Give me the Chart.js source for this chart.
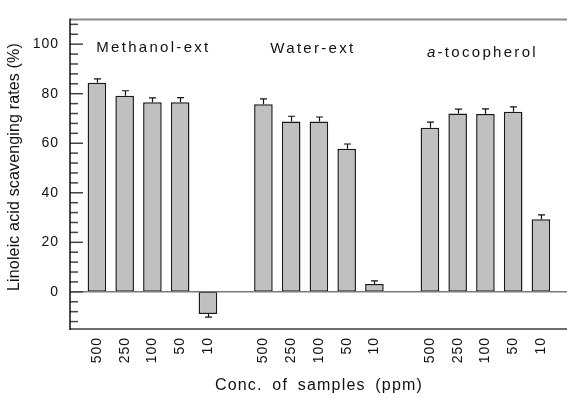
<!DOCTYPE html>
<html>
<head>
<meta charset="utf-8">
<script src="https://cdn.jsdelivr.net/npm/chart.js@4.4.1/dist/chart.umd.min.js"></script>
<style>
    html, body { margin: 0; padding: 0; background: #fff; }
    #wrap { width: 567px; height: 399px; }
</style>
</head>
<body>
<div id="wrap"><canvas id="chart"></canvas></div>
<script>
// sample groups and concentrations (ppm)
const groupNames = ['Methanol-ext', 'Water-ext', 'a-tocopherol'];
const concLabels = ['500', '250', '100', '50', '10'];

// linoleic acid scavenging rates (%), same order as concLabels
const methanolRates = [84.4, 79.2, 76.5, 76.5, -8.9];
const waterRates = [75.7, 68.8, 68.8, 57.8, 3.2];
const tocopherolRates = [66.3, 72.0, 71.8, 72.7, 29.3];

// error bars (drawn one side only, away from zero)
const methanolErr = [1.6, 2.0, 1.8, 1.9, 1.3];
const waterErr = [2.2, 2.1, 1.8, 1.9, 1.2];
const tocopherolErr = [2.2, 1.8, 2.1, 2.0, 1.8];

const yTickValues = [0, 20, 40, 60, 80, 100];

const FONT = "'Liberation Sans', Arial, sans-serif";

// each group takes 5 slots, one empty slot between groups
const rates = [methanolRates, waterRates, tocopherolRates];
const errs = [methanolErr, waterErr, tocopherolErr];
let points = [];
let pointErrs = [];
let slotLabels = {};
rates.forEach((group, g) => {
    group.forEach((v, i) => {
        const x = g * 6 + i;
        points.push({ x: x, y: v });
        pointErrs.push(errs[g][i]);
        slotLabels[x] = concLabels[i];
    });
});

// axes lines, inward ticks, error bars and group names
const decorPlugin = {
    id: 'decor',
    beforeDraw(chart) {
        chart.ctx.letterSpacing = '1px';
    },
    afterDatasetsDraw(chart) {
        const ctx = chart.ctx;
        const area = chart.chartArea;
        const xs = chart.scales.x;
        const ys = chart.scales.y;

        ctx.save();
        ctx.lineCap = 'butt';

        // error bars
        ctx.strokeStyle = '#111';
        ctx.lineWidth = 1.2;
        points.forEach((p, i) => {
            const px = Math.round(xs.getPixelForValue(p.x)) + 0.5;
            const sign = p.y < 0 ? -1 : 1;
            const y0 = ys.getPixelForValue(p.y);
            const y1 = ys.getPixelForValue(p.y + sign * pointErrs[i]);
            ctx.beginPath();
            ctx.moveTo(px, y0);
            ctx.lineTo(px, y1);
            ctx.moveTo(px - 3.5, y1);
            ctx.lineTo(px + 3.5, y1);
            ctx.stroke();
        });

        // zero line
        const zy = ys.getPixelForValue(0);
        ctx.strokeStyle = '#7a7a7a';
        ctx.lineWidth = 1.5;
        ctx.beginPath();
        ctx.moveTo(area.left, zy);
        ctx.lineTo(area.right, zy);
        ctx.stroke();

        // top frame line
        ctx.strokeStyle = '#8a8a8a';
        ctx.lineWidth = 2;
        ctx.beginPath();
        ctx.moveTo(area.left, area.top);
        ctx.lineTo(area.right, area.top);
        ctx.stroke();

        // bottom frame line
        ctx.strokeStyle = '#3a3a3a';
        ctx.lineWidth = 1.5;
        ctx.beginPath();
        ctx.moveTo(area.left, area.bottom);
        ctx.lineTo(area.right, area.bottom);
        ctx.stroke();

        // y ticks, pointing inward: major every 20, minor every 4
        ctx.strokeStyle = '#444';
        ctx.lineWidth = 1.5;
        for (let v = -12; v <= 108; v += 4) {
            const py = ys.getPixelForValue(v);
            const len = yTickValues.includes(v) ? 13 : 8;
            ctx.beginPath();
            ctx.moveTo(area.left, py);
            ctx.lineTo(area.left + len, py);
            ctx.stroke();
        }

        // left axis
        ctx.strokeStyle = '#111';
        ctx.lineWidth = 1.5;
        ctx.beginPath();
        ctx.moveTo(area.left, area.top - 1);
        ctx.lineTo(area.left, area.bottom + 1);
        ctx.stroke();

        // group names
        const labelTop = [28, 29, 33];
        const labelShift = [1, -6, -3];
        ctx.fillStyle = '#111';
        ctx.textBaseline = 'middle';
        ctx.letterSpacing = '2.3px';
        groupNames.forEach((name, g) => {
            const cx = xs.getPixelForValue(g * 6 + 2) + labelShift[g];
            const cy = area.top + labelTop[g];
            if (name.startsWith('a-')) {
                ctx.font = 'italic 15px ' + FONT;
                const wa = ctx.measureText('a').width;
                ctx.font = '15px ' + FONT;
                const wr = ctx.measureText(name.slice(1)).width;
                let x0 = cx - (wa + wr) / 2;
                ctx.textAlign = 'left';
                ctx.font = 'italic 15px ' + FONT;
                ctx.fillText('a', x0, cy);
                ctx.font = '15px ' + FONT;
                ctx.fillText(name.slice(1), x0 + wa, cy);
            } else {
                ctx.font = '15px ' + FONT;
                ctx.textAlign = 'center';
                ctx.fillText(name, cx, cy);
            }
        });

        // axis titles
        ctx.font = '16px ' + FONT;
        ctx.textAlign = 'center';
        ctx.letterSpacing = '1.2px';
        ctx.wordSpacing = '4px';
        ctx.fillText('Conc. of samples (ppm)', 319, 386);

        ctx.letterSpacing = '0.15px';
        ctx.wordSpacing = '0px';
        ctx.translate(15, 167);
        ctx.rotate(-Math.PI / 2);
        ctx.fillText('Linoleic acid scavenging rates (%)', 0, 0);

        ctx.restore();
    }
};

Chart.defaults.font.family = FONT;
Chart.defaults.font.size = 14;
Chart.defaults.color = '#111';

new Chart(document.getElementById('chart'), {
    type: 'bar',
    data: {
        datasets: [{
            data: points,
            backgroundColor: '#c0c0c0',
            borderColor: '#1a1a1a',
            borderWidth: 1.5,
            borderSkipped: false,
            categoryPercentage: 1,
            barPercentage: 0.67
        }]
    },
    options: {
        responsive: true,
        maintainAspectRatio: false,
        animation: false,
        layout: { padding: { top: 8, right: 0, left: 0, bottom: 0 } },
        plugins: {
            legend: { display: false },
            tooltip: { enabled: false }
        },
        scales: {
            x: {
                type: 'linear',
                offset: false,
                min: -0.97,
                max: 16.94,
                afterBuildTicks: (scale) => {
                    scale.ticks = points.map(p => ({ value: p.x }));
                },
                afterFit: (scale) => { scale.height = 70; },
                grid: { display: false, drawTicks: false },
                border: { display: false },
                ticks: {
                    autoSkip: false,
                    minRotation: 90,
                    maxRotation: 90,
                    padding: 8,
                    font: { size: 14 },
                    callback: (value) => slotLabels[value]
                }
            },
            y: {
                min: -15,
                max: 110,
                afterBuildTicks: (scale) => {
                    scale.ticks = yTickValues.map(v => ({ value: v }));
                },
                afterFit: (scale) => { scale.width = 70; },
                grid: { display: false, drawTicks: false },
                border: { display: false },
                ticks: {
                    padding: 11,
                    font: { size: 14 }
                }
            }
        }
    },
    plugins: [decorPlugin]
});
</script>
</body>
</html>
